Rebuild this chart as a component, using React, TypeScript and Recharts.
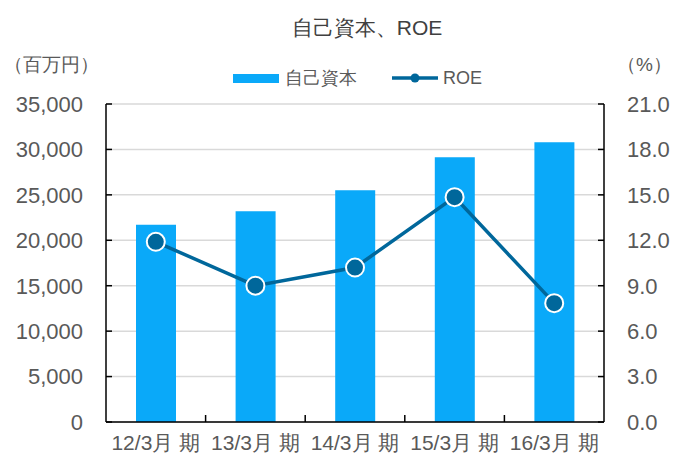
import React from "react";
import { ComposedChart, Bar, Line, XAxis, YAxis, CartesianGrid } from "recharts";

const periods = ["12/3月 期", "13/3月 期", "14/3月 期", "15/3月 期", "16/3月 期"];
const equity = [21700, 23200, 25500, 29150, 30800];
const roe = [11.9, 9.0, 10.2, 14.85, 7.85];
const leftTicks = [0, 5000, 10000, 15000, 20000, 25000, 30000, 35000];
const rightTicks = [0, 3, 6, 9, 12, 15, 18, 21];

const BAR_COLOR = "#0aa9f9";
const LINE_COLOR = "#00679b";
const TEXT = "#595959";
const FONT = "'Liberation Sans', Arial, sans-serif";

const data = periods.map((p, i) => ({ period: p, equity: equity[i], roe: roe[i] }));

const fmtLeft = (v: number) => v.toLocaleString("en-US");
const fmtRight = (v: number) => v.toFixed(1);

// category label plus a small inward tick at the right boundary of each band
const PeriodTick = (props: any) => {
    const { x, y, payload, index } = props;
    const half = payload && payload.offset ? payload.offset : 0;
    const axisY = y - 13;
    return (
        <g>
            {index < periods.length - 1 && half > 0 && (
                <line x1={x + half} x2={x + half} y1={axisY} y2={axisY - 7} stroke="#000" strokeWidth={1.5} />
            )}
            <text x={x} y={y} dy="0.71em" textAnchor="middle" fill={TEXT} fontSize={21} fontFamily={FONT}>
                {payload.value}
            </text>
        </g>
    );
};

const App: React.FC = () => {
    return (
        <div style={{ position: "absolute", left: 0, top: 0, width: 674, height: 454, fontFamily: FONT, background: "#fff" }}>
            <div style={{ position: "absolute", left: 118, width: 498, top: 14, textAlign: "center", fontSize: 21, color: "#404040" }}>
                自己資本、ROE
            </div>
            <div style={{ position: "absolute", left: 4, top: 52, fontSize: 19, color: TEXT }}>（百万円）</div>
            <div style={{ position: "absolute", right: 2, top: 52, fontSize: 19, color: TEXT }}>（%）</div>
            <div style={{ position: "absolute", left: 233, top: 66, display: "flex", alignItems: "center", fontSize: 18, color: TEXT }}>
                <span style={{ display: "inline-block", width: 46, height: 9, background: BAR_COLOR, marginRight: 6 }} />
                <span>自己資本</span>
                <svg width={46} height={12} style={{ marginLeft: 35, marginRight: 5 }}>
                    <line x1={0} y1={6} x2={46} y2={6} stroke={LINE_COLOR} strokeWidth={3.5} />
                    <circle cx={23} cy={6} r={4.5} fill={LINE_COLOR} />
                </svg>
                <span>ROE</span>
            </div>
            <ComposedChart
                width={674}
                height={454}
                data={data}
                margin={{ top: 104, right: 0, left: 0, bottom: 0 }}
            >
                <CartesianGrid vertical={false} stroke="#d9d9d9" strokeWidth={1.5} yAxisId="left" />
                <XAxis
                    dataKey="period"
                    height={32}
                    axisLine={{ stroke: "#000", strokeWidth: 1.5 }}
                    tickLine={false}
                    tick={<PeriodTick />}
                    tickMargin={7}
                    interval={0}
                />
                <YAxis
                    yAxisId="left"
                    width={106}
                    domain={[0, 35000]}
                    ticks={leftTicks}
                    tickFormatter={fmtLeft}
                    axisLine={{ stroke: "#000", strokeWidth: 1.5 }}
                    tickLine={{ stroke: "#000", strokeWidth: 1.5 }}
                    tickSize={-6}
                    tickMargin={29}
                    tick={{ fill: TEXT, fontSize: 22, fontFamily: FONT }}
                />
                <YAxis
                    yAxisId="right"
                    orientation="right"
                    width={70}
                    domain={[0, 21]}
                    ticks={rightTicks}
                    tickFormatter={fmtRight}
                    axisLine={{ stroke: "#000", strokeWidth: 1.5 }}
                    tickLine={{ stroke: "#000", strokeWidth: 1.5 }}
                    tickSize={-6}
                    tickMargin={29}
                    tick={{ fill: TEXT, fontSize: 22, fontFamily: FONT }}
                />
                <Bar yAxisId="left" dataKey="equity" fill={BAR_COLOR} barSize={40} isAnimationActive={false} />
                <Line
                    yAxisId="right"
                    dataKey="roe"
                    stroke={LINE_COLOR}
                    strokeWidth={3.5}
                    dot={{ r: 9, fill: LINE_COLOR, stroke: "#fff", strokeWidth: 2 }}
                    isAnimationActive={false}
                />
            </ComposedChart>
        </div>
    );
};

export default App;
